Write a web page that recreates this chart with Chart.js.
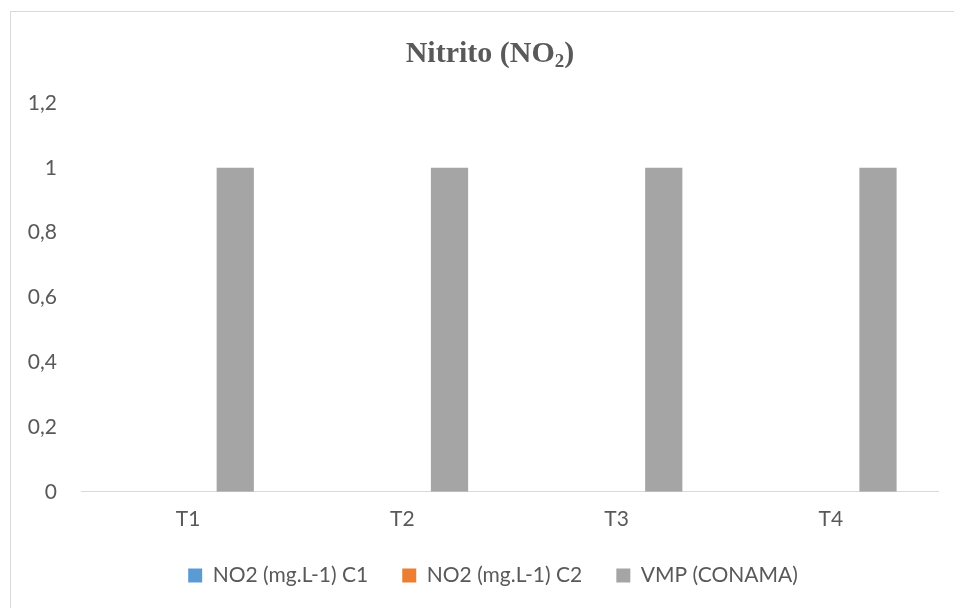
<!DOCTYPE html>
<html>
<head>
<meta charset="utf-8">
<script src="https://cdn.jsdelivr.net/npm/chart.js@4"></script>
<style>
  html, body { margin: 0; padding: 0; background: #fff; overflow: hidden; width: 954px; height: 608px; }
  #frame { position: absolute; left: 10px; top: 11px; width: 1000px; height: 700px;
           border-left: 1px solid #d9d9d9; border-top: 1px solid #d9d9d9; }
  #title { position: absolute; left: 0; top: 37px; width: 980px; text-align: center;
           font-family: "Liberation Serif", "Times New Roman", serif; font-weight: bold;
           font-size: 30px; line-height: 30px; color: #595959; }
  #title sub { font-size: 19px; vertical-align: -5px; line-height: 0; }
  #wrap { position: absolute; left: 0; top: 0; width: 986px; height: 622px; }
</style>
</head>
<body>
<div id="frame"></div>
<div id="wrap"><canvas id="myChart"></canvas></div>
<div id="title">Nitrito (NO<sub>2</sub>)</div>
<script>
const categories = ["T1", "T2", "T3", "T4"];
const no2C1 = [0, 0, 0, 0];
const no2C2 = [0, 0, 0, 0];
const vmpConama = [1, 1, 1, 1];
const seriesNames = ["NO2 (mg.L-1) C1", "NO2 (mg.L-1) C2", "VMP (CONAMA)"];
const seriesColors = ["#5b9bd5", "#ed7d31", "#a5a5a5"];

const textColor = "#595959";
const fontFamily = "Lato, 'Open Sans', sans-serif";

function commaLabel(v) {
    return parseFloat(v.toFixed(1)).toString().replace(".", ",");
}

const data = {
    labels: categories,
    datasets: [no2C1, no2C2, vmpConama].map((values, i) => ({
        label: seriesNames[i],
        data: values,
        backgroundColor: seriesColors[i],
        borderWidth: 0,
        categoryPercentage: 0.66,
        barPercentage: 0.79,
    })),
};

// legend padding is kept small for the vertical spot, so widen the gap between items with spaces
const defaultLabels = Chart.defaults.plugins.legend.labels.generateLabels;

const config = {
    type: "bar",
    data,
    options: {
        responsive: true,
        maintainAspectRatio: false,
        animation: false,
        layout: { padding: { left: 0, top: 103, right: 0, bottom: 26 } },
        plugins: {
            title: { display: false },
            tooltip: { enabled: false },
            legend: {
                position: "bottom",
                labels: {
                    boxWidth: 14,
                    boxHeight: 14,
                    padding: 18,
                    color: textColor,
                    font: { family: fontFamily, size: 21 },
                    generateLabels: (chart) => defaultLabels(chart).map((item, i) => {
                        if (i < seriesNames.length - 1) item.text = item.text + "   ";
                        return item;
                    }),
                },
            },
        },
        scales: {
            x: {
                grid: { display: false, drawTicks: false },
                border: { display: true, color: "#d9d9d9", width: 1 },
                ticks: { color: textColor, padding: 15, font: { family: fontFamily, size: 21 } },
            },
            y: {
                min: 0,
                max: 1.2,
                grid: { display: false, drawTicks: false },
                border: { display: false },
                ticks: {
                    stepSize: 0.2,
                    padding: 24,
                    color: textColor,
                    font: { family: fontFamily, size: 21 },
                    callback: (v) => commaLabel(v),
                },
                afterFit: (scale) => { scale.width = 81; },
            },
            // empty right-hand axis, only keeps room on the right so the legend stays centred
            yRight: {
                position: "right",
                grid: { display: false, drawTicks: false },
                border: { display: false },
                ticks: { display: false },
                afterFit: (scale) => { scale.width = 48; },
            },
        },
    },
};

var myChart = new Chart(document.getElementById("myChart"), config);
</script>
</body>
</html>
